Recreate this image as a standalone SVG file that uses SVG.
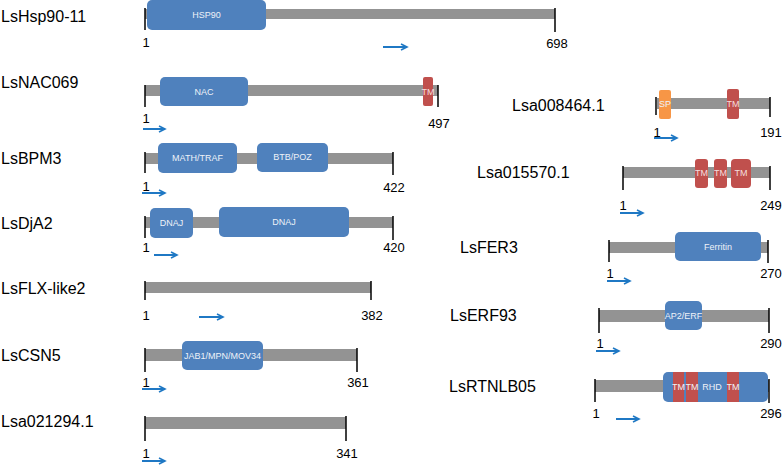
<svg xmlns="http://www.w3.org/2000/svg" width="782" height="466" viewBox="0 0 782 466">
<defs>
<marker id="ah" markerUnits="userSpaceOnUse" markerWidth="10" markerHeight="10" refX="7" refY="4" orient="auto">
<path d="M1,1 L7,4 L1,7" fill="none" stroke="#1f78c4" stroke-width="1.6"/>
</marker>
<style>
.lbl{font-family:"Liberation Sans",Arial,sans-serif;font-size:16px;fill:#000}
.num{font-family:"Liberation Sans",Arial,sans-serif;font-size:13px;fill:#000;text-anchor:middle}
.bar{fill:#939393}
.tick{stroke:#000;stroke-width:1.5}
.blue{fill:#4f81bd}
.red{fill:#c0504d}
.orange{fill:#f79646}
.dt{font-family:"Liberation Sans",Arial,sans-serif;font-size:9px;fill:#eef2f8;text-anchor:middle}
.tm{fill:#f4dede}
.arr{stroke:#1f78c4;stroke-width:2;fill:none;marker-end:url(#ah)}
</style>
</defs>
<rect width="782" height="466" fill="#fff"/>

<g id="LsHsp90-11">
<text class="lbl" x="1" y="22">LsHsp90-11</text>
<rect class="bar" x="145" y="9" width="410" height="10"/>
<line class="tick" x1="145" y1="8" x2="145" y2="30"/>
<line class="tick" x1="555" y1="8" x2="555" y2="32"/>
<rect class="blue" x="147" y="0" width="119" height="30" rx="5"/>
<text class="dt" x="206.5" y="18">HSP90</text>
<text class="num" x="146" y="47">1</text>
<text class="num" x="557" y="48">698</text>
<line class="arr" x1="383" y1="47" x2="407" y2="47"/>
</g>

<g id="LsNAC069">
<text class="lbl" x="1" y="88">LsNAC069</text>
<rect class="bar" x="145" y="85" width="293" height="11"/>
<line class="tick" x1="145" y1="85" x2="145" y2="107"/>
<line class="tick" x1="438" y1="85" x2="438" y2="107"/>
<rect class="blue" x="160" y="77" width="88" height="29" rx="5"/>
<text class="dt" x="204" y="95">NAC</text>
<rect class="red" x="423" y="77" width="10" height="29" rx="2"/>
<text class="dt tm" x="428" y="95">TM</text>
<text class="num" x="146" y="123">1</text>
<text class="num" x="439" y="128">497</text>
<line class="arr" x1="143" y1="129" x2="165" y2="129"/>
</g>

<g id="LsBPM3">
<text class="lbl" x="1" y="164">LsBPM3</text>
<rect class="bar" x="145" y="153" width="248" height="11"/>
<line class="tick" x1="145" y1="152" x2="145" y2="173"/>
<line class="tick" x1="393" y1="152" x2="393" y2="175"/>
<rect class="blue" x="158" y="143" width="79" height="30" rx="5"/>
<text class="dt" x="197.5" y="161">MATH/TRAF</text>
<rect class="blue" x="257" y="143" width="71" height="29" rx="5"/>
<text class="dt" x="292.5" y="160">BTB/POZ</text>
<text class="num" x="146" y="191">1</text>
<text class="num" x="394" y="192">422</text>
<line class="arr" x1="142" y1="193" x2="165" y2="193"/>
</g>

<g id="LsDjA2">
<text class="lbl" x="1" y="229">LsDjA2</text>
<rect class="bar" x="145" y="217" width="248" height="11"/>
<line class="tick" x1="145" y1="216" x2="145" y2="238"/>
<line class="tick" x1="393" y1="216" x2="393" y2="240"/>
<rect class="blue" x="150" y="208" width="43" height="30" rx="5"/>
<text class="dt" x="171.5" y="226">DNAJ</text>
<rect class="blue" x="219" y="207" width="130" height="30" rx="5"/>
<text class="dt" x="284" y="225">DNAJ</text>
<text class="num" x="146" y="252">1</text>
<text class="num" x="394" y="252">420</text>
<line class="arr" x1="154" y1="255" x2="177" y2="255"/>
</g>

<g id="LsFLX-like2">
<text class="lbl" x="1" y="294">LsFLX-like2</text>
<rect class="bar" x="145" y="282" width="226" height="11"/>
<line class="tick" x1="145" y1="281" x2="145" y2="300"/>
<line class="tick" x1="371" y1="281" x2="371" y2="300"/>
<text class="num" x="146" y="320">1</text>
<text class="num" x="372" y="320">382</text>
<line class="arr" x1="199" y1="317" x2="223" y2="317"/>
</g>

<g id="LsCSN5">
<text class="lbl" x="1" y="361">LsCSN5</text>
<rect class="bar" x="145" y="349" width="212" height="12"/>
<line class="tick" x1="145" y1="348" x2="145" y2="372"/>
<line class="tick" x1="357" y1="348" x2="357" y2="372"/>
<rect class="blue" x="182" y="341" width="81" height="29" rx="5"/>
<text class="dt" x="222.5" y="359">JAB1/MPN/MOV34</text>
<text class="num" x="146" y="387">1</text>
<text class="num" x="358" y="387">361</text>
<line class="arr" x1="142" y1="389" x2="165" y2="389"/>
</g>

<g id="Lsa021294.1">
<text class="lbl" x="1" y="427">Lsa021294.1</text>
<rect class="bar" x="145" y="417" width="201" height="12"/>
<line class="tick" x1="145" y1="416" x2="145" y2="441"/>
<line class="tick" x1="346" y1="416" x2="346" y2="441"/>
<text class="num" x="146" y="458">1</text>
<text class="num" x="347" y="458">341</text>
<line class="arr" x1="142" y1="461" x2="165" y2="461"/>
</g>

<g id="Lsa008464.1">
<text class="lbl" x="512" y="111">Lsa008464.1</text>
<rect class="bar" x="657" y="98" width="113" height="11"/>
<line class="tick" x1="656" y1="97" x2="656" y2="115"/>
<line class="tick" x1="770" y1="97" x2="770" y2="117"/>
<rect class="orange" x="659" y="90" width="12" height="29" rx="2"/>
<text class="dt" x="665" y="107">SP</text>
<rect class="red" x="727" y="89" width="12" height="30" rx="2"/>
<text class="dt tm" x="733" y="107">TM</text>
<text class="num" x="657" y="137">1</text>
<text class="num" x="771" y="137">191</text>
<line class="arr" x1="654" y1="138" x2="677" y2="138"/>
</g>

<g id="Lsa015570.1">
<text class="lbl" x="477" y="178">Lsa015570.1</text>
<rect class="bar" x="623" y="167" width="147" height="11"/>
<line class="tick" x1="623" y1="166" x2="623" y2="190"/>
<line class="tick" x1="770" y1="166" x2="770" y2="190"/>
<rect class="red" x="695" y="159" width="13" height="29" rx="3"/>
<rect class="red" x="714" y="159" width="13" height="29" rx="3"/>
<rect class="red" x="731" y="159" width="20" height="29" rx="4"/>
<text class="dt tm" x="701.5" y="176">TM</text>
<text class="dt tm" x="720.5" y="176">TM</text>
<text class="dt tm" x="741" y="176">TM</text>
<text class="num" x="623" y="210">1</text>
<text class="num" x="771" y="210">249</text>
<line class="arr" x1="620" y1="213" x2="643" y2="213"/>
</g>

<g id="LsFER3">
<text class="lbl" x="460" y="253">LsFER3</text>
<rect class="bar" x="609" y="242" width="159" height="11"/>
<line class="tick" x1="609" y1="240" x2="609" y2="262"/>
<line class="tick" x1="768" y1="240" x2="768" y2="263"/>
<rect class="blue" x="675" y="232" width="86" height="29" rx="5"/>
<text class="dt" x="718" y="250">Ferritin</text>
<text class="num" x="610" y="278">1</text>
<text class="num" x="771" y="278">270</text>
<line class="arr" x1="607" y1="281" x2="630" y2="281"/>
</g>

<g id="LsERF93">
<text class="lbl" x="450" y="321">LsERF93</text>
<rect class="bar" x="599" y="310" width="170" height="12"/>
<line class="tick" x1="599" y1="308" x2="599" y2="333"/>
<line class="tick" x1="769" y1="308" x2="769" y2="333"/>
<rect class="blue" x="665" y="301" width="37" height="29" rx="5"/>
<text class="dt" x="683.5" y="319">AP2/ERF</text>
<text class="num" x="600" y="348">1</text>
<text class="num" x="771" y="348">290</text>
<line class="arr" x1="596" y1="351" x2="619" y2="351"/>
</g>

<g id="LsRTNLB05">
<text class="lbl" x="449" y="392">LsRTNLB05</text>
<rect class="bar" x="595" y="380" width="174" height="12"/>
<line class="tick" x1="595" y1="379" x2="595" y2="402"/>
<line class="tick" x1="769" y1="379" x2="769" y2="403"/>
<rect class="blue" x="663" y="372" width="105" height="30" rx="5"/>
<rect class="red" x="673" y="372" width="11" height="30"/>
<rect class="red" x="686" y="372" width="12" height="30"/>
<rect class="red" x="727" y="372" width="12" height="30"/>
<text class="dt" x="678.5" y="390">TM</text>
<text class="dt" x="692" y="390">TM</text>
<text class="dt" x="712" y="390">RHD</text>
<text class="dt" x="733" y="390">TM</text>
<text class="num" x="596" y="418">1</text>
<text class="num" x="771" y="418">296</text>
<line class="arr" x1="616" y1="419" x2="639" y2="419"/>
</g>
</svg>
